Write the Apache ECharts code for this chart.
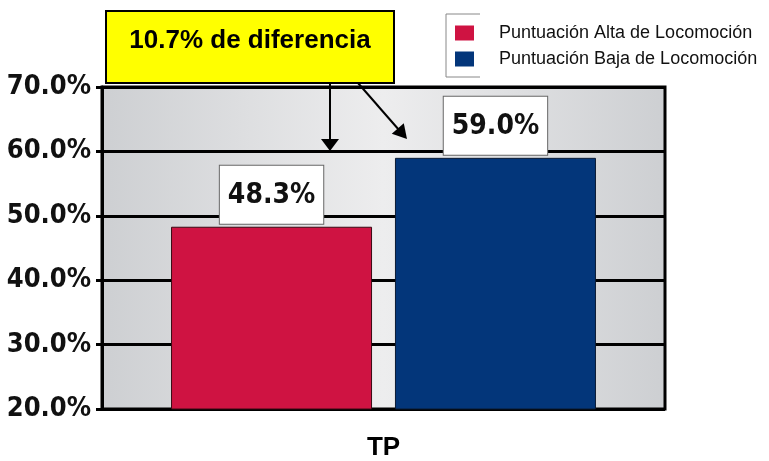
<!DOCTYPE html>
<html lang="es">
<head>
    <meta charset="UTF-8">
    <title>TP</title>
    <script src="https://cdn.jsdelivr.net/npm/echarts@6/dist/echarts.min.js"></script>
    <style>
        html, body { margin: 0; padding: 0; background: #fff; }
        #main { width: 769px; height: 461px; }
    </style>
</head>
<body>
<div id="main"></div>
<script>
    var categories = ['TP'];
    var seriesNames = ['Puntuación Alta de Locomoción', 'Puntuación Baja de Locomoción'];
    var altaValues = [48.3];
    var bajaValues = [59.0];
    var yTicks = [20, 30, 40, 50, 60, 70];

    var numFont = '"DejaVu Sans Condensed", "DejaVu Sans", sans-serif';
    var diff = (bajaValues[0] - altaValues[0]).toFixed(1);

    var chart = echarts.init(document.getElementById('main'));

    // arrow from the yellow box to the blue bar
    function arrowHead(x1, y1, x2, y2, len, half) {
        var a = Math.atan2(y2 - y1, x2 - x1);
        var bx = x2 - len * Math.cos(a), by = y2 - len * Math.sin(a);
        var px = -Math.sin(a) * half, py = Math.cos(a) * half;
        return [[x2, y2], [bx + px, by + py], [bx - px, by - py]];
    }

    var labelBox = {
        show: true,
        position: 'top',
        distance: 3,
        formatter: function (p) { return p.value.toFixed(1) + '%'; },
        backgroundColor: '#fff',
        borderColor: '#666',
        borderWidth: 1,
        padding: [16, 8, 14, 8],
        color: '#111',
        fontFamily: numFont,
        fontWeight: 'bold',
        fontSize: 28
    };

    var option = {
        animation: false,
        legend: {
            data: seriesNames,
            orient: 'vertical',
            left: 450,
            top: 19,
            icon: 'rect',
            itemWidth: 19,
            itemHeight: 15,
            itemGap: 8,
            itemStyle: { borderWidth: 0 },
            textStyle: {
                fontFamily: 'Liberation Sans, Arial, sans-serif',
                fontSize: 18,
                color: '#111',
                padding: [0, 0, 0, 20]
            }
        },
        grid: {
            left: 102,
            right: 104,
            top: 87,
            bottom: 52,
            show: true,
            borderColor: '#000',
            borderWidth: 3,
            backgroundColor: new echarts.graphic.LinearGradient(0, 0, 1, 0, [
                { offset: 0, color: '#cdcfd2' },
                { offset: 0.5, color: '#ededee' },
                { offset: 1, color: '#cdcfd2' }
            ])
        },
        xAxis: {
            type: 'category',
            data: categories,
            axisLine: { lineStyle: { color: '#000', width: 2 } },
            axisTick: { show: false },
            axisLabel: {
                margin: 26,
                color: '#000',
                fontFamily: 'Liberation Sans, Arial, sans-serif',
                fontWeight: 'bold',
                fontSize: 26
            }
        },
        yAxis: {
            type: 'value',
            min: yTicks[0],
            max: yTicks[yTicks.length - 1],
            interval: 10,
            axisLine: { show: true, lineStyle: { color: '#000', width: 3 } },
            axisTick: { show: true, length: 6, lineStyle: { color: '#000', width: 3 } },
            splitLine: { show: true, lineStyle: { color: '#000', width: 3 } },
            axisLabel: {
                margin: 11,
                color: '#111',
                fontFamily: numFont,
                fontWeight: 'bold',
                fontSize: 27,
                padding: [4, 0, 0, 0],
                formatter: function (v) { return v.toFixed(1) + '%'; }
            }
        },
        series: [
            {
                name: seriesNames[0],
                type: 'bar',
                data: altaValues,
                barWidth: 201,
                barGap: '11.4%',
                itemStyle: { color: '#cf1342', borderColor: '#3a0a14', borderWidth: 1 },
                label: labelBox
            },
            {
                name: seriesNames[1],
                type: 'bar',
                data: bajaValues,
                barWidth: 201,
                itemStyle: { color: '#03367a', borderColor: '#0a1a33', borderWidth: 1 },
                label: labelBox
            }
        ],
        graphic: [
            {
                type: 'polyline',
                shape: { points: [[480, 14], [446, 14], [446, 77], [480, 77]] },
                style: { stroke: '#888', lineWidth: 1, fill: null }
            },
            {
                type: 'rect',
                shape: { x: 106, y: 11, width: 288, height: 72 },
                style: { fill: '#ffff00', stroke: '#000', lineWidth: 2 },
                z: 100
            },
            {
                type: 'text',
                x: 250, y: 41,
                style: {
                    text: diff + '% de diferencia',
                    fontFamily: 'Liberation Sans, Arial, sans-serif',
                    fontWeight: 'bold',
                    fontSize: 26,
                    fill: '#000',
                    align: 'center',
                    verticalAlign: 'middle'
                },
                z: 101
            },
            {
                type: 'line',
                shape: { x1: 330, y1: 83, x2: 330, y2: 141 },
                style: { stroke: '#000', lineWidth: 2 },
                z: 100
            },
            {
                type: 'polygon',
                shape: { points: arrowHead(330, 83, 330, 151, 12, 9) },
                style: { fill: '#000' },
                z: 100
            },
            {
                type: 'line',
                shape: { x1: 358, y1: 83, x2: 399, y2: 130 },
                style: { stroke: '#000', lineWidth: 2 },
                z: 100
            },
            {
                type: 'polygon',
                shape: { points: arrowHead(358, 83, 407, 139, 14, 8) },
                style: { fill: '#000' },
                z: 100
            }
        ]
    };

    chart.setOption(option);
</script>
</body>
</html>
